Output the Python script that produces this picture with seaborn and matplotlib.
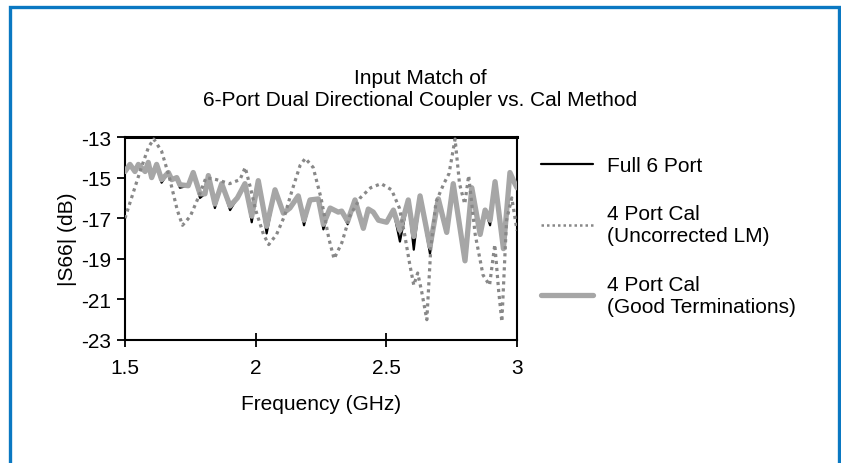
import numpy as np
import pandas as pd
import matplotlib
matplotlib.use("Agg")
import matplotlib.pyplot as plt
import seaborn as sns
from matplotlib.patches import Rectangle

# frequency points (GHz) shared by the two calibrated traces
freq = [1.500, 1.519, 1.538, 1.551, 1.577, 1.589, 1.602, 1.621, 1.640, 1.666,
        1.679, 1.698, 1.710, 1.742, 1.761, 1.787, 1.806, 1.819, 1.844, 1.870,
        1.902, 1.930, 1.959, 1.985, 2.010, 2.042, 2.074, 2.106, 2.131, 2.163,
        2.185, 2.208, 2.240, 2.259, 2.285, 2.316, 2.329, 2.352, 2.380, 2.412,
        2.431, 2.450, 2.470, 2.501, 2.527, 2.552, 2.584, 2.605, 2.629, 2.667,
        2.699, 2.731, 2.756, 2.801, 2.827, 2.859, 2.878, 2.897, 2.916, 2.948,
        2.973, 2.992, 3.000]

good_term = [-14.7, -14.35, -14.7, -14.35, -14.7, -14.25, -15.0, -14.35, -15.1, -14.75,
             -15.1, -15.0, -15.35, -15.4, -14.75, -15.8, -15.8, -14.9, -16.3, -15.3,
             -16.4, -16.0, -15.3, -16.9, -15.15, -17.4, -15.6, -16.75, -16.5, -15.9,
             -17.1, -16.1, -16.05, -17.3, -16.5, -16.7, -16.65, -17.15, -16.1, -17.5,
             -16.55, -16.7, -17.1, -17.2, -16.6, -17.6, -16.1, -17.9, -15.9, -18.4,
             -16.05, -17.7, -15.3, -19.1, -15.5, -17.8, -16.6, -17.1, -15.2, -18.5,
             -14.75, -15.3, -15.5]

full_6port = [-14.7, -14.35, -14.7, -14.35, -14.7, -14.25, -15.0, -14.35, -15.25, -14.75,
              -15.1, -15.0, -15.5, -15.4, -14.75, -16.0, -15.8, -14.9, -16.5, -15.3,
              -16.6, -16.0, -15.3, -17.2, -15.15, -17.75, -15.6, -16.75, -16.5, -15.9,
              -17.35, -16.1, -16.05, -17.55, -16.5, -16.7, -16.65, -17.3, -16.1, -17.5,
              -16.55, -16.7, -17.1, -17.2, -16.6, -18.15, -16.1, -18.55, -15.9, -18.75,
              -16.05, -17.7, -15.3, -19.1, -15.5, -17.8, -16.6, -17.35, -15.2, -18.5,
              -14.75, -15.3, -15.5]

# uncorrected load match trace
freq_lm = [1.50, 1.53, 1.56, 1.59, 1.61, 1.64, 1.67, 1.70, 1.72, 1.75,
           1.78, 1.81, 1.85, 1.90, 1.94, 1.96, 1.98, 2.00, 2.03, 2.05,
           2.08, 2.11, 2.14, 2.17, 2.19, 2.22, 2.25, 2.28, 2.30, 2.33,
           2.36, 2.40, 2.44, 2.48, 2.52, 2.55, 2.57, 2.59, 2.605, 2.62,
           2.635, 2.655, 2.67, 2.69, 2.72, 2.74, 2.763, 2.78, 2.80, 2.815,
           2.84, 2.87, 2.895, 2.915, 2.93, 2.942, 2.96, 2.98, 3.00]
uncorr_lm = [-17.0, -15.8, -14.6, -13.5, -13.1, -13.7, -15.0, -16.6, -17.35, -16.9,
             -16.0, -15.0, -15.1, -15.3, -15.1, -14.5, -15.5, -16.6, -17.8, -18.3,
             -17.8, -16.9, -15.6, -14.4, -14.05, -14.5, -16.0, -18.0, -19.0, -18.2,
             -16.9, -16.0, -15.5, -15.3, -15.6, -16.5, -17.8, -19.3, -20.3, -19.7,
             -20.6, -22.0, -18.5, -16.2, -15.3, -14.8, -13.1, -15.3, -16.3, -14.9,
             -17.8, -19.8, -20.3, -18.3, -20.6, -22.1, -17.1, -16.0, -17.6]

y_ticks = [-13, -15, -17, -19, -21, -23]
x_ticks = [1.5, 2, 2.5, 3]
x_labels = ["1.5", "2", "2.5", "3"]

sns.set_style("white")
plt.rcParams["font.family"] = ["Liberation Sans", "DejaVu Sans"]
plt.rcParams["axes.unicode_minus"] = False
plt.rcParams["text.color"] = "black"
plt.rcParams["axes.labelcolor"] = "black"

fig = plt.figure(figsize=(8.41, 4.64), dpi=100)
ax = fig.add_axes([125 / 841, 1 - 341 / 464, 392 / 841, 203 / 464])

sns.lineplot(x=freq, y=full_6port, ax=ax, color="black", lw=1.6,
             label="Full 6 Port", zorder=2)
sns.lineplot(x=freq_lm, y=uncorr_lm, ax=ax, color="#888888", lw=2.3,
             ls=(0, (1, 1.2)), label="4 Port Cal\n(Uncorrected LM)", zorder=4)
sns.lineplot(x=freq, y=good_term, ax=ax, color="#a6a6a6", lw=3.8,
             label="4 Port Cal\n(Good Terminations)", zorder=3)

ax.set_xlim(1.5, 3)
ax.set_ylim(-23, -13)
ax.set_xticks(x_ticks)
ax.set_xticklabels(x_labels)
ax.set_yticks(y_ticks)
ax.tick_params(axis="x", direction="inout", length=10, width=1.3,
               labelsize=15, pad=8, colors="black")
ax.tick_params(axis="y", direction="out", length=6, width=1.3,
               labelsize=15, pad=4, colors="black")
ax.tick_params(left=True, bottom=True)
for s in ax.spines.values():
    s.set_color("black")
    s.set_linewidth(1.5)
ax.spines["top"].set_linewidth(2.2)

ax.set_xlabel("Frequency (GHz)", fontsize=15, labelpad=12)
ax.set_ylabel("|S66| (dB)", fontsize=15, labelpad=3)

leg = ax.legend(loc="upper left", bbox_to_anchor=(1.06, 0.905), frameon=False,
                fontsize=15, handlelength=2.5, handletextpad=0.7,
                labelspacing=1.4, borderaxespad=0, borderpad=0)
leg.get_lines()[1].set_linewidth(1.8)

fig.text(0.5, 1 - 84 / 464, "Input Match of",
         ha="center", va="baseline", fontsize=15)
fig.text(0.5, 1 - 106 / 464, "6-Port Dual Directional Coupler vs. Cal Method",
         ha="center", va="baseline", fontsize=15)

# blue frame around the figure (bottom edge runs off the image)
fig.patches.append(Rectangle((9.5 / 841, -0.05), (838.5 - 9.5) / 841, 1.05 - 7.5 / 464,
                             transform=fig.transFigure, fill=False,
                             edgecolor="#0a78c2", lw=2.4))

fig.savefig("out.png", dpi=100)
